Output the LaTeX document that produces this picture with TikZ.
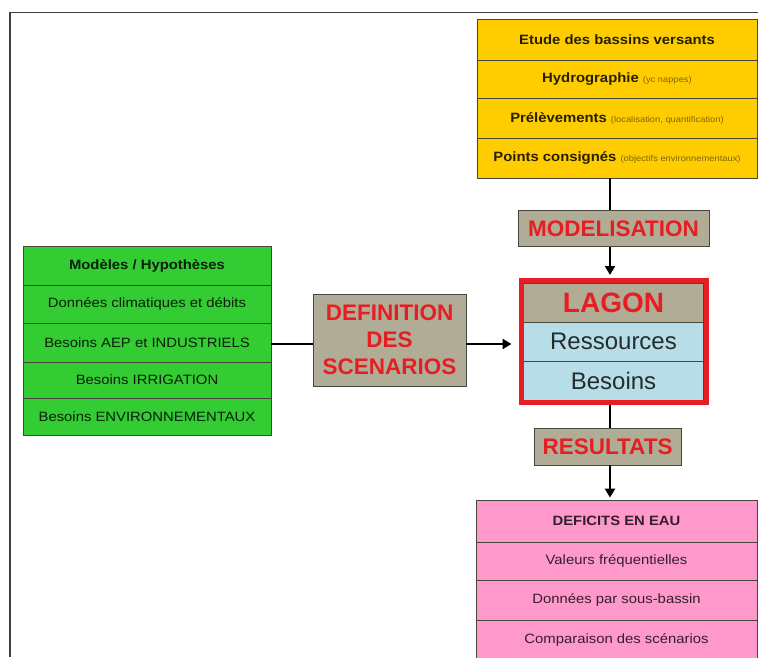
\documentclass[tikz,border=0pt]{standalone}
\usepackage{fontspec}
\setmainfont{Liberation Sans}
\newfontfamily\ligneface{Liberation Sans}[FakeStretch=1.1]
\usetikzlibrary{arrows.meta}

\definecolor{jaune}{RGB}{255,204,0}
\definecolor{vert}{RGB}{51,204,51}
\definecolor{rose}{RGB}{255,153,204}
\definecolor{bleu}{RGB}{183,222,232}
\definecolor{kaki}{RGB}{176,172,150}
\definecolor{rouge}{RGB}{230,30,35}
\definecolor{trait}{RGB}{70,70,60}

\tikzset{
  ligne/.style={draw=trait, line width=0.8, minimum height=#1, inner sep=0pt, font=\ligneface\fontsize{13.5}{15}\selectfont},
  etiq/.style={draw=trait, line width=0.8, fill=kaki, text=rouge, inner sep=0pt, font=\fontsize{22.5}{27}\selectfont\bfseries, align=center},
  fleche/.style={line width=2.8, -{Triangle[length=9,width=10]}},
  trait noir/.style={line width=2.8}
}
\newcommand{\petit}[1]{{\fontsize{8.5}{9}\selectfont\color{black!50!jaune}#1}}

\begin{document}
\begin{tikzpicture}[x=1pt,y=1pt,yscale=-1]
\useasboundingbox (0,0) rectangle (758,657);
\clip (0,0) rectangle (758,657);
%cadre de la capture
\draw [line width=1.5, color=black!75] (10,657) -- (10,12.5) -- (758,12.5);

% Etude des bassins versants
\node (bv0) at (617,39.5)  [ligne=41, minimum width=280, fill=jaune, text=black!85!jaune] {\textbf{Etude des bassins versants}};
\node (bv1) at (617,79)    [ligne=38, minimum width=280, fill=jaune, text=black!85!jaune] {\textbf{Hydrographie} \petit{(yc nappes)}};
\node (bv2) at (617,118)   [ligne=40, minimum width=280, fill=jaune, text=black!85!jaune] {\textbf{Prélèvements} \petit{(localisation, quantification)}};
\node (bv3) at (617,158)   [ligne=40, minimum width=280, fill=jaune, text=black!85!jaune] {\textbf{Points consignés} \petit{(objectifs environnementaux)}};

% Modeles / Hypotheses
\node (hy0) at (147,265.5) [ligne=39, minimum width=248, fill=vert, text=black!85!vert] {\textbf{Modèles / Hypothèses}};
\node (hy1) at (147,304)   [ligne=38, minimum width=248, fill=vert, text=black!85!vert] {Données climatiques et débits};
\node (hy2) at (147,342.5) [ligne=39, minimum width=248, fill=vert, text=black!85!vert] {Besoins AEP et INDUSTRIELS};
\node (hy3) at (147,380)   [ligne=36, minimum width=248, fill=vert, text=black!85!vert] {Besoins IRRIGATION};
\node (hy4) at (147,416.5) [ligne=37, minimum width=248, fill=vert, text=black!85!vert] {Besoins ENVIRONNEMENTAUX};

% Definition des scenarios
\node (defscen) at (389.5,340) [etiq, minimum width=153, minimum height=92] {DEFINITION\\DES\\SCENARIOS};

% LAGON
\node (lag) at (613.5,302.5) [ligne=39, minimum width=180, fill=kaki, text=rouge, font=\fontsize{28}{30}\selectfont\bfseries] {LAGON};
\node (res) at (613.5,341.5) [ligne=39, minimum width=180, fill=bleu, text=black!80!bleu, font=\fontsize{24}{26}\selectfont] {Ressources};
\node (bes) at (613.5,380.5) [ligne=39, minimum width=180, fill=bleu, text=black!80!bleu, font=\fontsize{24}{26}\selectfont] {Besoins};
\node (lagon) at (613.5,341.5) [draw=rouge, line width=5, minimum width=185, minimum height=122] {};

% Modelisation / Resultats
\node (model) at (613.5,228.5) [etiq, minimum width=191, minimum height=36] {MODELISATION};
\node (resul) at (607.5,446.5) [etiq, minimum width=147, minimum height=37] {RESULTATS};

% Deficits en eau
\node (df0) at (616.5,521)  [ligne=42, minimum width=281, fill=rose, text=black!80!rose] {\textbf{DEFICITS EN EAU}};
\node (df1) at (616.5,561)  [ligne=38, minimum width=281, fill=rose, text=black!80!rose] {Valeurs fréquentielles};
\node (df2) at (616.5,600)  [ligne=40, minimum width=281, fill=rose, text=black!80!rose] {Données par sous-bassin};
\node (df3) at (616.5,640)  [ligne=40, minimum width=281, fill=rose, text=black!80!rose] {Comparaison des scénarios};

% connecteurs
\draw [trait noir] (bv3.south -| 610,0) -- (model.north -| 610,0);
\draw [fleche] (model.south -| 610,0) -- ([yshift=-3]lagon.north -| 610,0);
\draw [trait noir] (lagon.south -| 610,0) -- (resul.north -| 610,0);
\draw [fleche] (resul.south -| 610,0) -- ([yshift=-2]df0.north -| 610,0);
\draw [trait noir] (hy2.east |- 0,344) -- (defscen.west |- 0,344);
\draw [fleche] (defscen.east |- 0,344) -- ([xshift=-7]lagon.west |- 0,344);

\end{tikzpicture}
\end{document}
